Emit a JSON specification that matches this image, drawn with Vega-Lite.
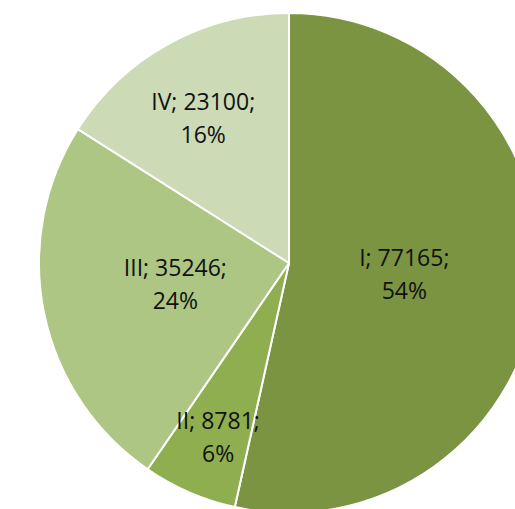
{
  "$schema": "https://vega.github.io/schema/vega-lite/v6.json",
  "width": 578,
  "height": 526,
  "autosize": {"type": "none"},
  "padding": {"left": 0, "top": 0, "right": -63, "bottom": -17},
  "background": "white",
  "config": {"view": {"stroke": null}},
  "data": {
    "values": [
      {"category": "I", "value": 77165, "pct": "54%"},
      {"category": "II", "value": 8781, "pct": "6%"},
      {"category": "III", "value": 35246, "pct": "24%"},
      {"category": "IV", "value": 23100, "pct": "16%"}
    ]
  },
  "transform": [
    {"calculate": "[datum.category + '; ' + datum.value + ';', datum.pct]", "as": "label"}
  ],
  "encoding": {
    "theta": {"field": "value", "type": "quantitative", "stack": true},
    "order": {"field": "category", "sort": "ascending"}
  },
  "layer": [
    {
      "mark": {"type": "arc", "radius": 250, "stroke": "white", "strokeWidth": 2},
      "encoding": {
        "color": {
          "field": "category",
          "type": "nominal",
          "scale": {"domain": ["I", "II", "III", "IV"], "range": ["#7a9442", "#8eae50", "#adc683", "#ccdab5"]},
          "legend": null
        }
      }
    },
    {
      "mark": {"type": "text", "radius": 116, "dy": -17, "font": "Open Sans", "fontSize": 23, "lineHeight": 33, "color": "#111111", "baseline": "middle"},
      "encoding": {
        "text": {"condition": {"test": "datum.value > 30000", "field": "label"}, "value": ""}
      }
    },
    {
      "mark": {"type": "text", "radius": 178, "dy": -4, "font": "Open Sans", "fontSize": 23, "lineHeight": 33, "color": "#111111", "baseline": "middle"},
      "encoding": {
        "text": {"condition": {"test": "datum.value <= 30000", "field": "label"}, "value": ""}
      }
    }
  ]
}
